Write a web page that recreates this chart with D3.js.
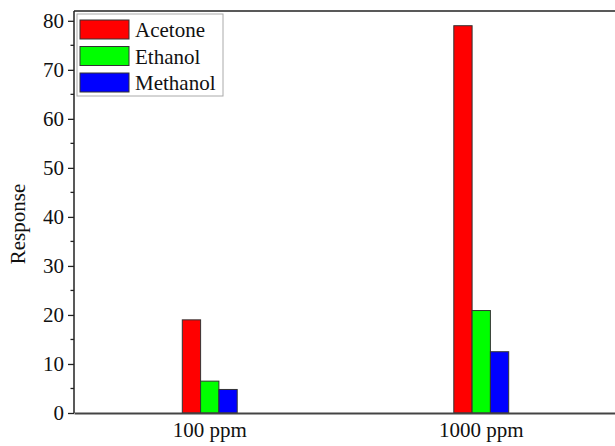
<!DOCTYPE html>
<html>
<head>
<meta charset="utf-8">
<script src="https://cdn.jsdelivr.net/npm/d3@7.9.0/dist/d3.min.js"></script>
<style>
  body { margin: 0; background: #fff; }
  svg text { font-family: "Liberation Serif", "Times New Roman", serif; fill: #111; }
</style>
</head>
<body>
<svg id="chart" width="615" height="446"></svg>
<script>
// ---- data ----
const concentrations = ["100 ppm", "1000 ppm"];
const gases = ["Acetone", "Ethanol", "Methanol"];
const gasColors = ["#ff0000", "#00ff00", "#0000ff"];
const acetone = [19.0, 79.0];
const ethanol = [6.5, 20.9];
const methanol = [4.8, 12.5];
const yTicks = [0, 10, 20, 30, 40, 50, 60, 70, 80];

const seriesValues = [acetone, ethanol, methanol];

// ---- layout ----
const W = 615, H = 446;
const m = { top: 11, right: -2, bottom: 33, left: 74 };
const innerW = W - m.left - m.right;
const innerH = H - m.top - m.bottom;

const svg = d3.select("#chart");
const g = svg.append("g").attr("transform", `translate(${m.left},${m.top})`);

const x = d3.scaleBand().domain(concentrations).range([0, innerW]).paddingInner(0).paddingOuter(0);
const barW = 18.3;
const xSub = d3.scaleBand().domain(gases).range([-barW * 1.5, barW * 1.5]);
const y = d3.scaleLinear().domain([0, 82]).range([innerH, 0]);

// ---- bars ----
gases.forEach((gas, si) => {
  g.selectAll(null)
    .data(seriesValues[si])
    .join("rect")
    .attr("x", (d, i) => x(concentrations[i]) + x.bandwidth() / 2 + xSub(gas))
    .attr("y", d => y(d))
    .attr("width", xSub.bandwidth())
    .attr("height", d => innerH - y(d))
    .attr("fill", gasColors[si])
    .attr("stroke", "#333")
    .attr("stroke-width", 1);
});

// ---- frame (top) ----
g.append("line")
  .attr("x1", 0).attr("x2", innerW)
  .attr("y1", 0).attr("y2", 0)
  .attr("stroke", "#222").attr("stroke-width", 1.5);

// ---- y axis ----
const yAxis = g.append("g")
  .call(d3.axisLeft(y).tickValues(yTicks).tickSize(6).tickPadding(4))
  .call(a => a.select(".domain").attr("d", `M0,${innerH}V0`).attr("stroke", "#222").attr("stroke-width", 1.5));
yAxis.selectAll(".tick line").attr("stroke", "#222").attr("stroke-width", 1.3);
yAxis.selectAll(".tick text").attr("font-size", 21).style("font-family", "Liberation Serif");

// minor ticks
g.append("g")
  .selectAll("line")
  .data(d3.range(5, 80, 10))
  .join("line")
  .attr("x1", -3.5).attr("x2", 0)
  .attr("y1", d => y(d)).attr("y2", d => y(d))
  .attr("stroke", "#222").attr("stroke-width", 1.3);

// ---- x axis ----
const xAxis = g.append("g")
  .attr("transform", `translate(0,${innerH})`)
  .call(d3.axisBottom(x).tickSize(0).tickPadding(9));
xAxis.select(".domain").attr("stroke", "#444").attr("stroke-width", 2);
xAxis.selectAll(".tick text").attr("font-size", 21).style("font-family", "Liberation Serif");

// ---- y title ----
svg.append("text")
  .attr("transform", `translate(25,224) rotate(-90)`)
  .attr("text-anchor", "middle")
  .attr("font-size", 21)
  .text("Response");

// ---- legend ----
const legend = svg.append("g").attr("transform", "translate(77,14)");
legend.append("rect")
  .attr("width", 146).attr("height", 82)
  .attr("fill", "#fff").attr("stroke", "#aaa").attr("stroke-width", 1);
gases.forEach((gas, i) => {
  const row = legend.append("g").attr("transform", `translate(3,${6 + i * 26.5})`);
  row.append("rect")
    .attr("width", 49).attr("height", 19)
    .attr("fill", gasColors[i]).attr("stroke", "#333").attr("stroke-width", 1);
  row.append("text")
    .attr("x", 55).attr("y", 17)
    .attr("font-size", 21)
    .text(gas);
});
</script>
</body>
</html>
